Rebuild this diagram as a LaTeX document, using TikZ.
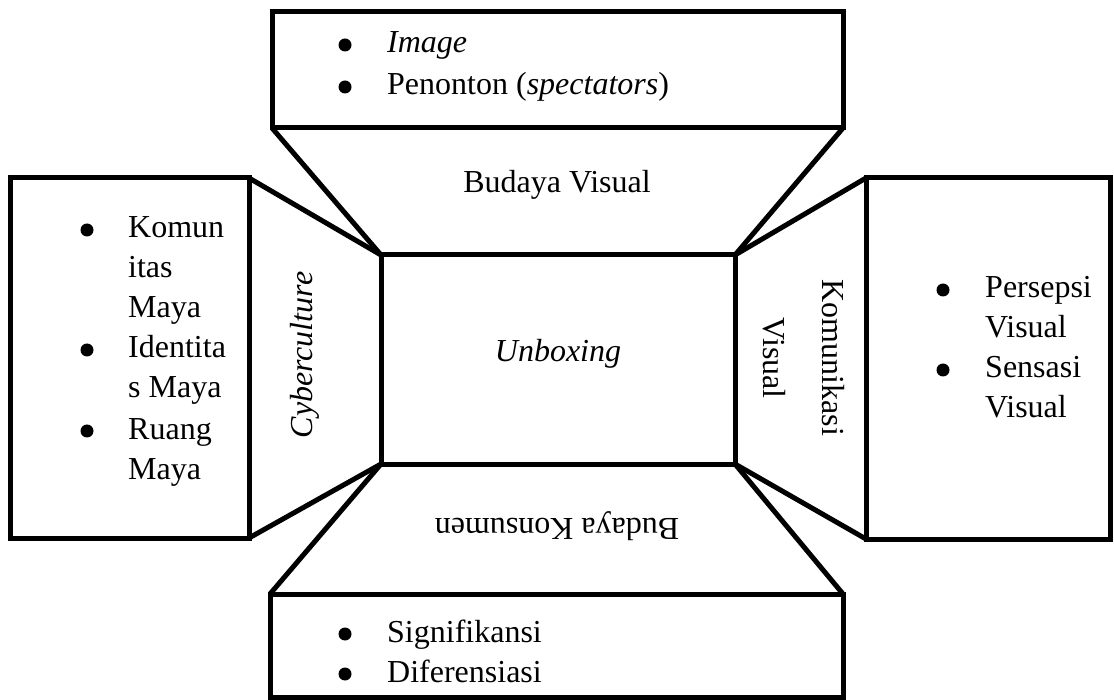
\documentclass[tikz,border=0pt]{standalone}
\usepackage{fontspec}
\setmainfont{Liberation Serif}
\usepackage{tikz}

\begin{document}
\begin{tikzpicture}[x=1pt,y=-1pt,
	font=\fontsize{32}{40}\selectfont,
	box/.style={draw, line width=5pt, inner sep=0pt, outer sep=0pt},
	side/.style={line width=5pt},
	blt/.style={circle, fill, inner sep=0pt, minimum size=13pt},
	item/.style={anchor=base west, inner sep=0pt},
	lbl/.style={anchor=base, inner sep=0pt}]
	\useasboundingbox (0,0) rectangle (1114,700);
	% boxes
	\node[box, minimum width=354pt, minimum height=209pt] (core) at (558,359.5) {};
	\node[box, minimum width=571pt, minimum height=116pt] (topbox) at (557.5,70) {};
	\node[box, minimum width=239pt, minimum height=360pt] (leftbox) at (129.5,358) {};
	\node[box, minimum width=244pt, minimum height=361pt] (rightbox) at (988,358.5) {};
	\node[box, minimum width=573pt, minimum height=103pt] (botbox) at (556.5,645.5) {};
	% flaps
	\draw[side] (topbox.south west) -- (core.north west);
	\draw[side] (topbox.south east) -- (core.north east);
	\draw[side] (leftbox.north east) -- (core.north west);
	\draw[side] (leftbox.south east) -- (core.south west);
	\draw[side] (rightbox.north west) -- (core.north east);
	\draw[side] (rightbox.south west) -- (core.south east);
	\draw[side] (botbox.north west) -- (core.south west);
	\draw[side] (botbox.north east) -- (core.south east);
	% flap labels
	\node[lbl] (unbox) at (558,362) {\textit{Unboxing}};
	\node[lbl] (visual) at (557,193) {Budaya Visual};
	\node[lbl, rotate=180] (konsumen) at (557,518) {Budaya Konsumen};
	\node[lbl, rotate=90] (cyber) at (312,355) {\textit{Cyberculture}};
	\node[lbl, rotate=-90] (komA) at (822,358) {Komunikasi};
	\node[lbl, rotate=-90] (komB) at (763,358) {Visual};
	% top list
	\node[blt] (t1) at (345,45) {};
	\node[item] (image) at (387,53) {\textit{Image}};
	\node[blt] (t2) at (345,87) {};
	\node[item] (penonton) at (387,95) {Penonton (\textit{spectators})};
	% left list
	\node[blt] (l1) at (87,230) {};
	\node[item] (komun) at (128,238) {Komun};
	\node[item] (itas) at (128,278) {itas};
	\node[item] (maya1) at (128,318) {Maya};
	\node[blt] (l2) at (87,350) {};
	\node[item] (ident) at (128,358) {Identita};
	\node[item] (maya2) at (128,398) {s Maya};
	\node[blt] (l3) at (87,431) {};
	\node[item] (ruang) at (128,439) {Ruang};
	\node[item] (maya3) at (128,479) {Maya};
	% right list
	\node[blt] (r1) at (943,290) {};
	\node[item] (persepsi) at (985,298) {Persepsi};
	\node[item] (vis1) at (985,338) {Visual};
	\node[blt] (r2) at (943,370) {};
	\node[item] (sensasi) at (985,378) {Sensasi};
	\node[item] (vis2) at (985,418) {Visual};
	% bottom list
	\node[blt] (b1) at (345,634) {};
	\node[item] (signif) at (387,642) {Signifikansi};
	\node[blt] (b2) at (345,674) {};
	\node[item] (diferen) at (387,682) {Diferensiasi};
\end{tikzpicture}
\end{document}
